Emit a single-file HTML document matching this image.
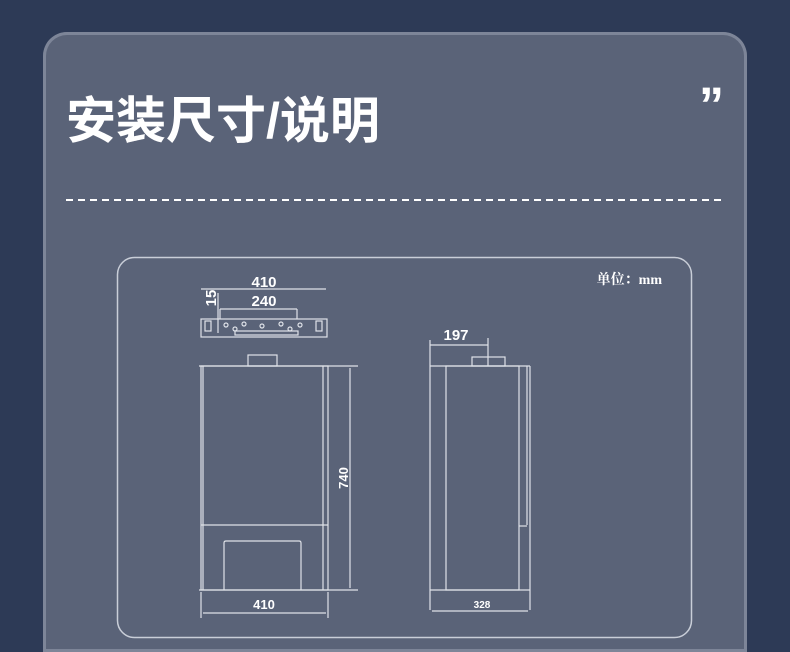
<!DOCTYPE html>
<html><head><meta charset="utf-8"><style>
html,body{margin:0;padding:0;width:790px;height:652px;overflow:hidden;background:#2d3a56;}
#w{position:relative;width:790px;height:652px;overflow:hidden;}
.card{position:absolute;left:43px;top:32px;width:704px;height:620px;border-radius:24px 24px 0 0;background:#5a6378;box-shadow:inset 0 0 0 3px #7d8598;}
.t{position:absolute;left:66px;top:81px;font:bold 50px "Liberation Sans","Noto Sans CJK SC",sans-serif;color:#fff;white-space:nowrap;}
.q{position:absolute;left:699px;top:80px;font:bold 50px "Liberation Sans",sans-serif;color:#fff;line-height:1;}
svg{position:absolute;left:0;top:0;}
</style></head><body><div id="w">
<div class="card"></div>
<div class="t">安装尺寸/说明</div>
<div class="q">”</div>
<svg width="790" height="652" viewBox="0 0 790 652" font-family="Liberation Sans, sans-serif">
<line x1="66" y1="200" x2="725" y2="200" stroke="#fff" stroke-width="2" stroke-dasharray="7,5"/>
<rect x="117.5" y="257.5" width="574" height="380" rx="17" fill="none" stroke="#c9ced8" stroke-width="1.5"/>
<text x="662" y="284" fill="#fff" font-size="14" font-weight="bold" text-anchor="end" font-family="Liberation Serif, Noto Serif CJK SC, serif">单位：mm</text>
<g stroke="#dfe2e8" fill="none" stroke-width="1.2">
<line x1="201" y1="289" x2="326" y2="289"/>
<rect x="201" y="319" width="126" height="18"/>
<line x1="220" y1="309" x2="297" y2="309"/>
<line x1="220" y1="309" x2="220" y2="319"/><line x1="297" y1="309" x2="297" y2="319"/>
<line x1="218" y1="293" x2="218" y2="333"/>
<rect x="205" y="321" width="6" height="10"/><rect x="316" y="321" width="6" height="10"/>
<rect x="235" y="331" width="63" height="4"/>
<circle cx="226" cy="325" r="2"/><circle cx="235" cy="329" r="2"/><circle cx="244" cy="324" r="2"/><circle cx="262" cy="326" r="2"/><circle cx="281" cy="324" r="2"/><circle cx="290" cy="329" r="2"/><circle cx="300" cy="325" r="2"/>
<rect x="248" y="355" width="29" height="11"/>
<line x1="199" y1="366" x2="358" y2="366"/>
<rect x="201" y="366" width="127" height="224"/>
<line x1="323" y1="366" x2="323" y2="590"/>
<line x1="203" y1="366" x2="203" y2="590"/>
<line x1="201" y1="525" x2="328" y2="525"/>
<path d="M224 590 V543 Q224 541 226 541 H299 Q301 541 301 543 V590"/>
<line x1="199" y1="590" x2="358" y2="590"/>
<line x1="350" y1="368" x2="350" y2="588"/>
<line x1="201" y1="592" x2="201" y2="618"/><line x1="328" y1="592" x2="328" y2="618"/>
<line x1="203" y1="613" x2="326" y2="613"/>
<line x1="430" y1="340" x2="430" y2="610"/>
<line x1="488" y1="338" x2="488" y2="366"/>
<line x1="430" y1="345" x2="488" y2="345"/>
<rect x="472" y="357" width="33" height="9"/>
<line x1="430" y1="366" x2="530" y2="366"/>
<rect x="446" y="366" width="73" height="224"/>
<line x1="527" y1="366" x2="527" y2="525"/><line x1="519" y1="526" x2="527" y2="526"/>
<line x1="530" y1="366" x2="530" y2="610"/>
<line x1="430" y1="590" x2="530" y2="590"/>
<line x1="432" y1="611" x2="528" y2="611"/>
</g>
<g fill="#fff" font-weight="bold" text-anchor="middle">
<text x="264" y="287" font-size="15">410</text>
<text x="264" y="306" font-size="15">240</text>
<text x="216" y="298" font-size="15" transform="rotate(-90 216 298)">15</text>
<text x="456" y="340" font-size="15">197</text>
<text x="348" y="478" font-size="13" transform="rotate(-90 348 478)">740</text>
<text x="264" y="609" font-size="13">410</text>
<text x="482" y="608" font-size="10">328</text>
</g>
</svg>
</div></body></html>
